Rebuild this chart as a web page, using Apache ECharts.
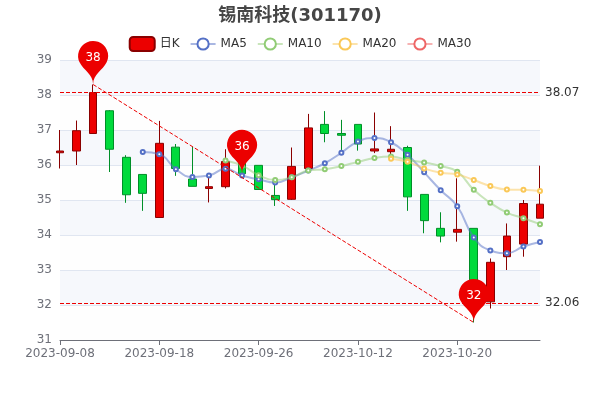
<!DOCTYPE html>
<html>
<head>
<meta charset="utf-8">
<style>html,body{margin:0;padding:0;background:#fff}#main{width:600px;height:400px}</style>
<script src="https://cdn.jsdelivr.net/npm/echarts@6/dist/echarts.min.js"></script>
</head>
<body>
<div id="main"></div>
<script>
var dates=['2023-09-08','2023-09-11','2023-09-12','2023-09-13','2023-09-14','2023-09-15','2023-09-18','2023-09-19','2023-09-20','2023-09-21',
  '2023-09-22','2023-09-25','2023-09-26','2023-09-27','2023-09-28','2023-10-09','2023-10-10','2023-10-11','2023-10-12','2023-10-13',
  '2023-10-16','2023-10-17','2023-10-18','2023-10-19','2023-10-20','2023-10-23','2023-10-24','2023-10-25','2023-10-26','2023-10-27'];
var opens=[36.35,36.4,36.9,37.55,36.22,35.73,34.5,36.51,35.6,35.33,35.38,36.1,35.99,35.13,35.02,35.9,37.16,36.9,37.16,36.4,36.38,36.5,35.16,34.19,34.08,34.19,32.09,33.38,33.74,34.48];
var closes=[36.4,36.98,38.07,36.45,35.15,35.19,36.62,35.9,35.39,35.38,36.1,35.75,35.3,35.01,35.96,37.06,36.9,36.85,36.6,36.46,36.45,35.09,34.41,33.97,34.16,32.06,33.22,33.97,34.9,34.88];
var lows=[35.9,36.0,36.9,35.8,34.92,34.69,34.5,35.69,35.39,34.93,35.33,35.7,35.3,34.83,35.0,35.85,36.65,36.29,36.41,36.34,36.29,34.69,34.05,33.79,33.81,31.5,31.9,33.0,33.38,34.48];
var highs=[37.0,37.27,38.3,37.57,36.28,35.73,37.26,36.6,36.52,35.67,36.45,36.3,35.99,35.49,36.5,37.46,37.54,37.29,37.16,37.5,37.11,36.55,35.16,34.65,35.62,34.19,33.33,34.33,35.0,35.98];
var ma5=['-','-','-','-','-',36.37,36.31,35.88,35.66,35.7,35.89,35.7,35.59,35.5,35.65,35.84,36.05,36.35,36.67,36.77,36.65,36.29,35.79,35.28,34.82,33.93,33.56,33.48,33.67,33.8];
var ma10=['-','-','-','-','-','-','-','-','-','-',36.13,35.98,35.71,35.57,35.65,35.84,35.88,35.97,36.09,36.2,36.24,36.14,36.07,35.97,35.81,35.29,34.92,34.64,34.48,34.31];
var ma20=['-','-','-','-','-','-','-','-','-','-','-','-','-','-','-','-','-','-','-','-',36.18,36.09,35.9,35.78,35.73,35.57,35.4,35.3,35.29,35.26];
var ma30=dates.map(function(){return '-';});
var avgIndex=11;
var avgValue=35.76;

var candles=dates.map(function(d,i){return [opens[i],closes[i],lows[i],highs[i]];});
var fontName='"DejaVu Sans","Noto Sans CJK SC",sans-serif';

function maSeries(name,data,color){
  return {
    name:name,
    type:'line',
    data:data,
    smooth:true,
    symbol:'emptyCircle',
    symbolSize:4,
    showSymbol:true,
    showAllSymbol:true,
    itemStyle:{color:color},
    lineStyle:{color:color,opacity:0.5}
  };
}

var chart=echarts.init(document.getElementById('main'));
chart.setOption({
  animation:false,
  textStyle:{fontFamily:fontName},
  title:{
    text:'锡南科技(301170)',
    left:'center',
    top:2,
    textStyle:{fontSize:18,fontWeight:'bold',color:'#464646',fontFamily:fontName}
  },
  legend:{
    top:31,
    itemWidth:25,
    itemHeight:14,
    itemGap:10,
    data:['日K','MA5','MA10','MA20','MA30'],
    textStyle:{color:'#333',fontSize:12,fontFamily:fontName}
  },
  grid:{left:60,right:60,top:60,bottom:60,outerBoundsMode:'none'},
  xAxis:{
    type:'category',
    data:dates,
    boundaryGap:false,
    axisLine:{lineStyle:{color:'#6E7079'}},
    axisTick:{show:true,lineStyle:{color:'#6E7079'}},
    axisLabel:{color:'#6E7079',fontSize:12,interval:5,fontFamily:fontName},
    splitLine:{show:false}
  },
  yAxis:{
    type:'value',
    scale:true,
    min:31,
    max:39,
    interval:1,
    axisLine:{show:false},
    axisTick:{show:false},
    axisLabel:{color:'#6E7079',fontSize:12,fontFamily:fontName},
    splitLine:{show:true,lineStyle:{color:'#E0E6F1'}},
    splitArea:{show:true,areaStyle:{color:['rgba(250,250,250,0.2)','rgba(210,219,238,0.2)']}}
  },
  series:[
    {
      name:'日K',
      type:'candlestick',
      data:candles,
      itemStyle:{color:'#ec0000',color0:'#00da3c',borderColor:'#8A0000',borderColor0:'#008F28'},
      markPoint:{
        label:{color:'#fff',fontSize:12,fontFamily:fontName,formatter:function(p){return Math.round(p.value);}},
        itemStyle:{color:'#ec0000'},
        data:[
          {name:'highest',type:'max',valueDim:'highest'},
          {name:'lowest',type:'min',valueDim:'lowest'},
          {name:'average',coord:[dates[avgIndex],avgValue],value:avgValue}
        ]
      },
      markLine:{
        symbol:'none',
        animation:false,
        lineStyle:{color:'#ec0000',type:'dashed',width:1},
        label:{color:'#333',fontSize:12,position:'end',fontFamily:fontName},
        data:[
          {name:'max close',type:'max',valueDim:'close'},
          {name:'min close',type:'min',valueDim:'close'},
          [
            {type:'max',valueDim:'highest',symbol:'none',lineStyle:{color:'#ec0000',type:'dashed',width:1},label:{show:false}},
            {type:'min',valueDim:'lowest',symbol:'none'}
          ]
        ]
      }
    },
    maSeries('MA5',ma5,'#5470C6'),
    maSeries('MA10',ma10,'#91CC75'),
    maSeries('MA20',ma20,'#FAC858'),
    maSeries('MA30',ma30,'#EE6666')
  ]
});
</script>
</body>
</html>
